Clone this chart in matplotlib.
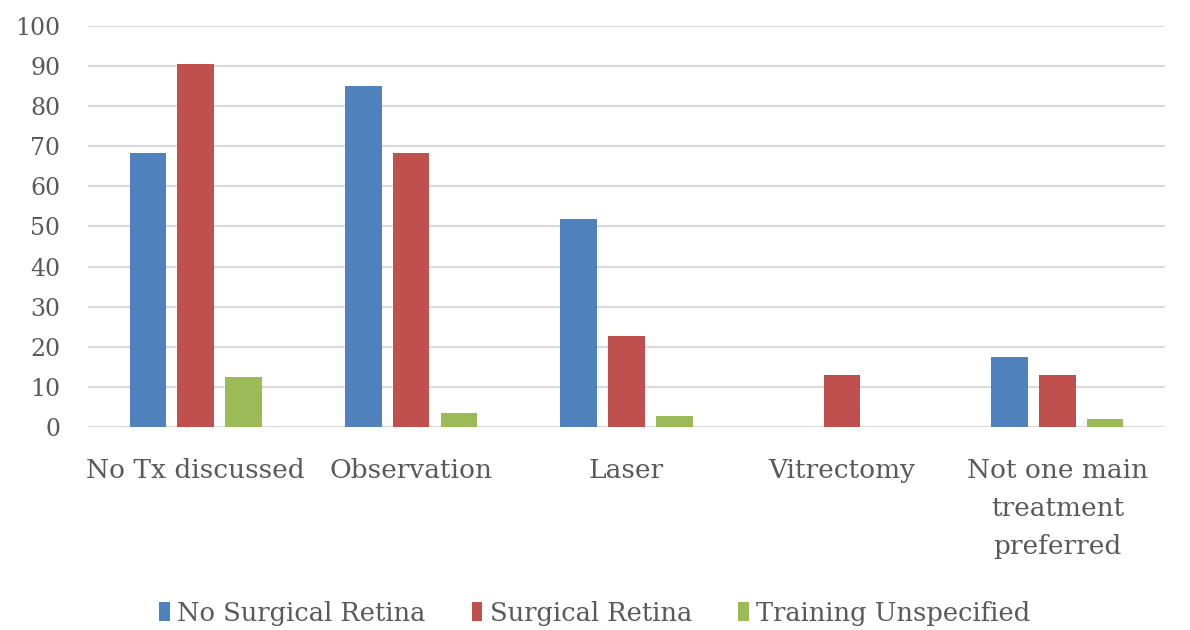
import matplotlib
matplotlib.use("Agg")
import matplotlib.pyplot as plt
import numpy as np

# data (percent)
categories = ["No Tx discussed", "Observation", "Laser", "Vitrectomy",
              "Not one main\ntreatment\npreferred"]
no_surgical = [68.2, 85.1, 51.9, 0.0, 17.5]
surgical = [90.5, 68.2, 22.7, 13.0, 13.0]
unspecified = [12.5, 3.6, 2.9, 0.0, 2.0]
series_names = ["No Surgical Retina", "Surgical Retina", "Training Unspecified"]

CLR_BLUE = "#4F81BD"
CLR_RED = "#C0504D"
CLR_GREEN = "#9BBB59"
CLR_GRID = "#D9D9D9"
CLR_TEXT = "#595959"

plt.rcParams["font.family"] = ["DejaVu Serif"]

fig = plt.figure(figsize=(11.9, 6.3), dpi=100)
ax = fig.add_axes([0.074, 0.322, 0.905, 0.637])

x = np.arange(len(categories))
w = 0.17
off = 0.222
ax.bar(x - off, no_surgical, w, color=CLR_BLUE, label=series_names[0], zorder=3)
ax.bar(x, surgical, w, color=CLR_RED, label=series_names[1], zorder=3)
ax.bar(x + off, unspecified, w, color=CLR_GREEN, label=series_names[2], zorder=3)

ax.set_xlim(-0.5, len(categories) - 0.5)
ax.set_ylim(0, 100)
ax.set_yticks(range(0, 101, 10))
ax.yaxis.grid(True, color=CLR_GRID, linewidth=1.5, zorder=0)
for s in ax.spines.values():
    s.set_visible(False)
ax.tick_params(axis="both", length=0, colors=CLR_TEXT)
ax.tick_params(axis="y", pad=20, labelsize=17)
ax.tick_params(axis="x", pad=22, labelsize=19)
ax.set_xticks(x)
ax.set_xticklabels(categories, linespacing=1.65)

fig.legend(loc="lower center", bbox_to_anchor=(0.5, -0.03), ncol=3, frameon=False,
           fontsize=18.5, handlelength=0.4, handleheight=0.75, handletextpad=0.3,
           columnspacing=1.8, labelcolor=CLR_TEXT)

fig.savefig("out.png", dpi=100, facecolor="white")
